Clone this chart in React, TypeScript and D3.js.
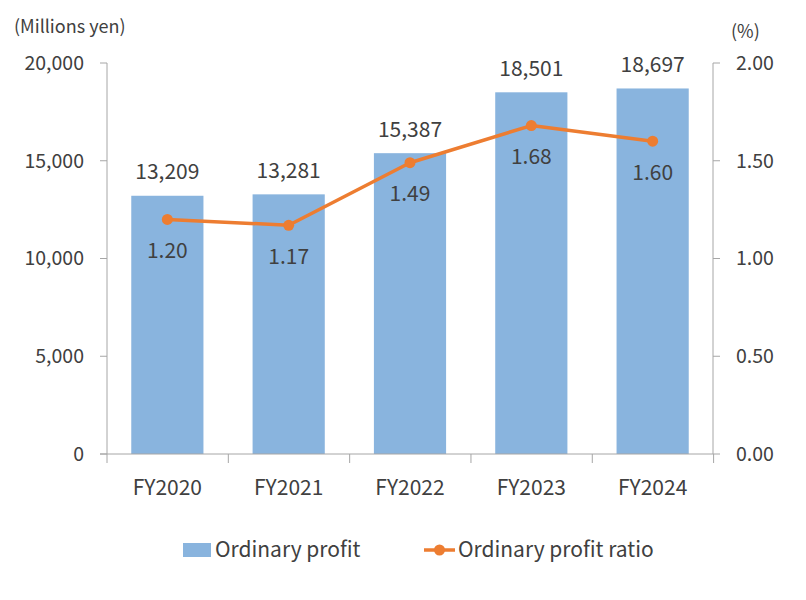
import { useEffect, useRef } from 'react';
import * as d3 from 'd3';

const years = ['FY2020', 'FY2021', 'FY2022', 'FY2023', 'FY2024'];
const ordinaryProfit = [13209, 13281, 15387, 18501, 18697];
const profitRatio = [1.2, 1.17, 1.49, 1.68, 1.6];
const leftTicks = [0, 5000, 10000, 15000, 20000];
const rightTicks = [0, 0.5, 1.0, 1.5, 2.0];

const FONT = '"Noto Sans CJK JP", "Noto Sans", sans-serif';
const BAR = '#89b4de';
const ORANGE = '#ed7d31';
const AXIS = '#a6a6a6';
const TEXT = '#404040';

export default function App() {
  const svgRef = useRef<SVGSVGElement>(null);

  useEffect(() => {
    if (!svgRef.current) return;
    const svg = d3.select(svgRef.current);
    svg.selectAll('*').remove();

    const left = 107;
    const right = 713;
    const top = 63;
    const bottom = 454;

    const x = d3.scaleBand<string>().domain(years).range([left, right]).paddingInner(0.405).paddingOuter(0.2);
    const yL = d3.scaleLinear().domain([0, 20000]).range([bottom, top]);
    const yR = d3.scaleLinear().domain([0, 2]).range([bottom, top]);
    const step = x.step();
    const cx = (d: string) => (x(d) ?? 0) + x.bandwidth() / 2;

    // bars
    svg.append('g')
      .selectAll('rect')
      .data(years)
      .join('rect')
      .attr('x', d => x(d) ?? 0)
      .attr('width', x.bandwidth())
      .attr('y', (_, i) => yL(ordinaryProfit[i]))
      .attr('height', (_, i) => bottom - yL(ordinaryProfit[i]))
      .attr('fill', BAR);

    // left axis
    const gl = svg.append('g');
    gl.append('line').attr('x1', left).attr('x2', left).attr('y1', top).attr('y2', bottom).attr('stroke', AXIS);
    leftTicks.forEach(t => {
      gl.append('line').attr('x1', left - 7).attr('x2', left).attr('y1', yL(t)).attr('y2', yL(t)).attr('stroke', AXIS);
      gl.append('text')
        .attr('x', 84).attr('y', yL(t)).attr('dy', '0.35em')
        .attr('text-anchor', 'end')
        .attr('font-size', 19.5).attr('fill', TEXT).attr('font-family', FONT)
        .text(d3.format(',')(t));
    });

    // right axis
    const gr = svg.append('g');
    gr.append('line').attr('x1', right).attr('x2', right).attr('y1', top).attr('y2', bottom).attr('stroke', AXIS);
    rightTicks.forEach(t => {
      gr.append('line').attr('x1', right).attr('x2', right + 7).attr('y1', yR(t)).attr('y2', yR(t)).attr('stroke', AXIS);
      gr.append('text')
        .attr('x', 736).attr('y', yR(t)).attr('dy', '0.35em')
        .attr('font-size', 19.5).attr('fill', TEXT).attr('font-family', FONT)
        .text(d3.format('.2f')(t));
    });

    // bottom axis
    const gb = svg.append('g');
    gb.append('line').attr('x1', left - 7).attr('x2', right).attr('y1', bottom).attr('y2', bottom).attr('stroke', AXIS);
    d3.range(years.length + 1).forEach(i => {
      const tx = left + i * step;
      gb.append('line').attr('x1', tx).attr('x2', tx).attr('y1', bottom).attr('y2', bottom + 9).attr('stroke', AXIS);
    });
    gb.selectAll('text.cat')
      .data(years)
      .join('text')
      .attr('x', d => cx(d)).attr('y', 488).attr('dy', '0.35em')
      .attr('text-anchor', 'middle')
      .attr('font-size', 21).attr('fill', TEXT).attr('font-family', FONT)
      .text(d => d);

    // axis titles
    svg.append('text')
      .attr('x', 14).attr('y', 27).attr('dy', '0.35em')
      .attr('font-size', 18).attr('fill', TEXT).attr('font-family', FONT)
      .text('(Millions yen)');
    svg.append('text')
      .attr('x', 731).attr('y', 32).attr('dy', '0.35em')
      .attr('font-size', 18).attr('fill', TEXT).attr('font-family', FONT)
      .text('(%)');

    // bar labels
    svg.append('g')
      .selectAll('text')
      .data(years)
      .join('text')
      .attr('x', d => cx(d)).attr('y', (_, i) => yL(ordinaryProfit[i]) - 24).attr('dy', '0.35em')
      .attr('text-anchor', 'middle')
      .attr('font-size', 21).attr('fill', TEXT).attr('font-family', FONT)
      .text((_, i) => d3.format(',')(ordinaryProfit[i]));

    // line
    const line = d3.line<number>()
      .x((_, i) => cx(years[i]))
      .y(d => yR(d));
    svg.append('path')
      .attr('d', line(profitRatio))
      .attr('fill', 'none')
      .attr('stroke', ORANGE)
      .attr('stroke-width', 3.5)
      .attr('stroke-linejoin', 'round');
    svg.append('g')
      .selectAll('circle')
      .data(profitRatio)
      .join('circle')
      .attr('cx', (_, i) => cx(years[i])).attr('cy', d => yR(d))
      .attr('r', 5.5).attr('fill', ORANGE);

    // ratio labels
    svg.append('g')
      .selectAll('text')
      .data(profitRatio)
      .join('text')
      .attr('x', (_, i) => cx(years[i])).attr('y', d => yR(d) + 31).attr('dy', '0.35em')
      .attr('text-anchor', 'middle')
      .attr('font-size', 21).attr('fill', TEXT).attr('font-family', FONT)
      .text(d => d3.format('.2f')(d));

    // legend
    const lg = svg.append('g');
    lg.append('rect').attr('x', 183).attr('y', 543).attr('width', 28).attr('height', 14).attr('fill', BAR);
    lg.append('text')
      .attr('x', 215).attr('y', 550).attr('dy', '0.35em')
      .attr('font-size', 21).attr('fill', TEXT).attr('font-family', FONT)
      .text('Ordinary profit');
    lg.append('line').attr('x1', 424).attr('x2', 455).attr('y1', 550).attr('y2', 550)
      .attr('stroke', ORANGE).attr('stroke-width', 3.5);
    lg.append('circle').attr('cx', 439.5).attr('cy', 550).attr('r', 5.5).attr('fill', ORANGE);
    lg.append('text')
      .attr('x', 458).attr('y', 550).attr('dy', '0.35em')
      .attr('font-size', 21).attr('fill', TEXT).attr('font-family', FONT)
      .text('Ordinary profit ratio');
  }, []);

  return (
    <svg
      ref={svgRef}
      width={806}
      height={600}
      style={{ position: 'absolute', left: 0, top: 0, background: '#fff' }}
    />
  );
}
